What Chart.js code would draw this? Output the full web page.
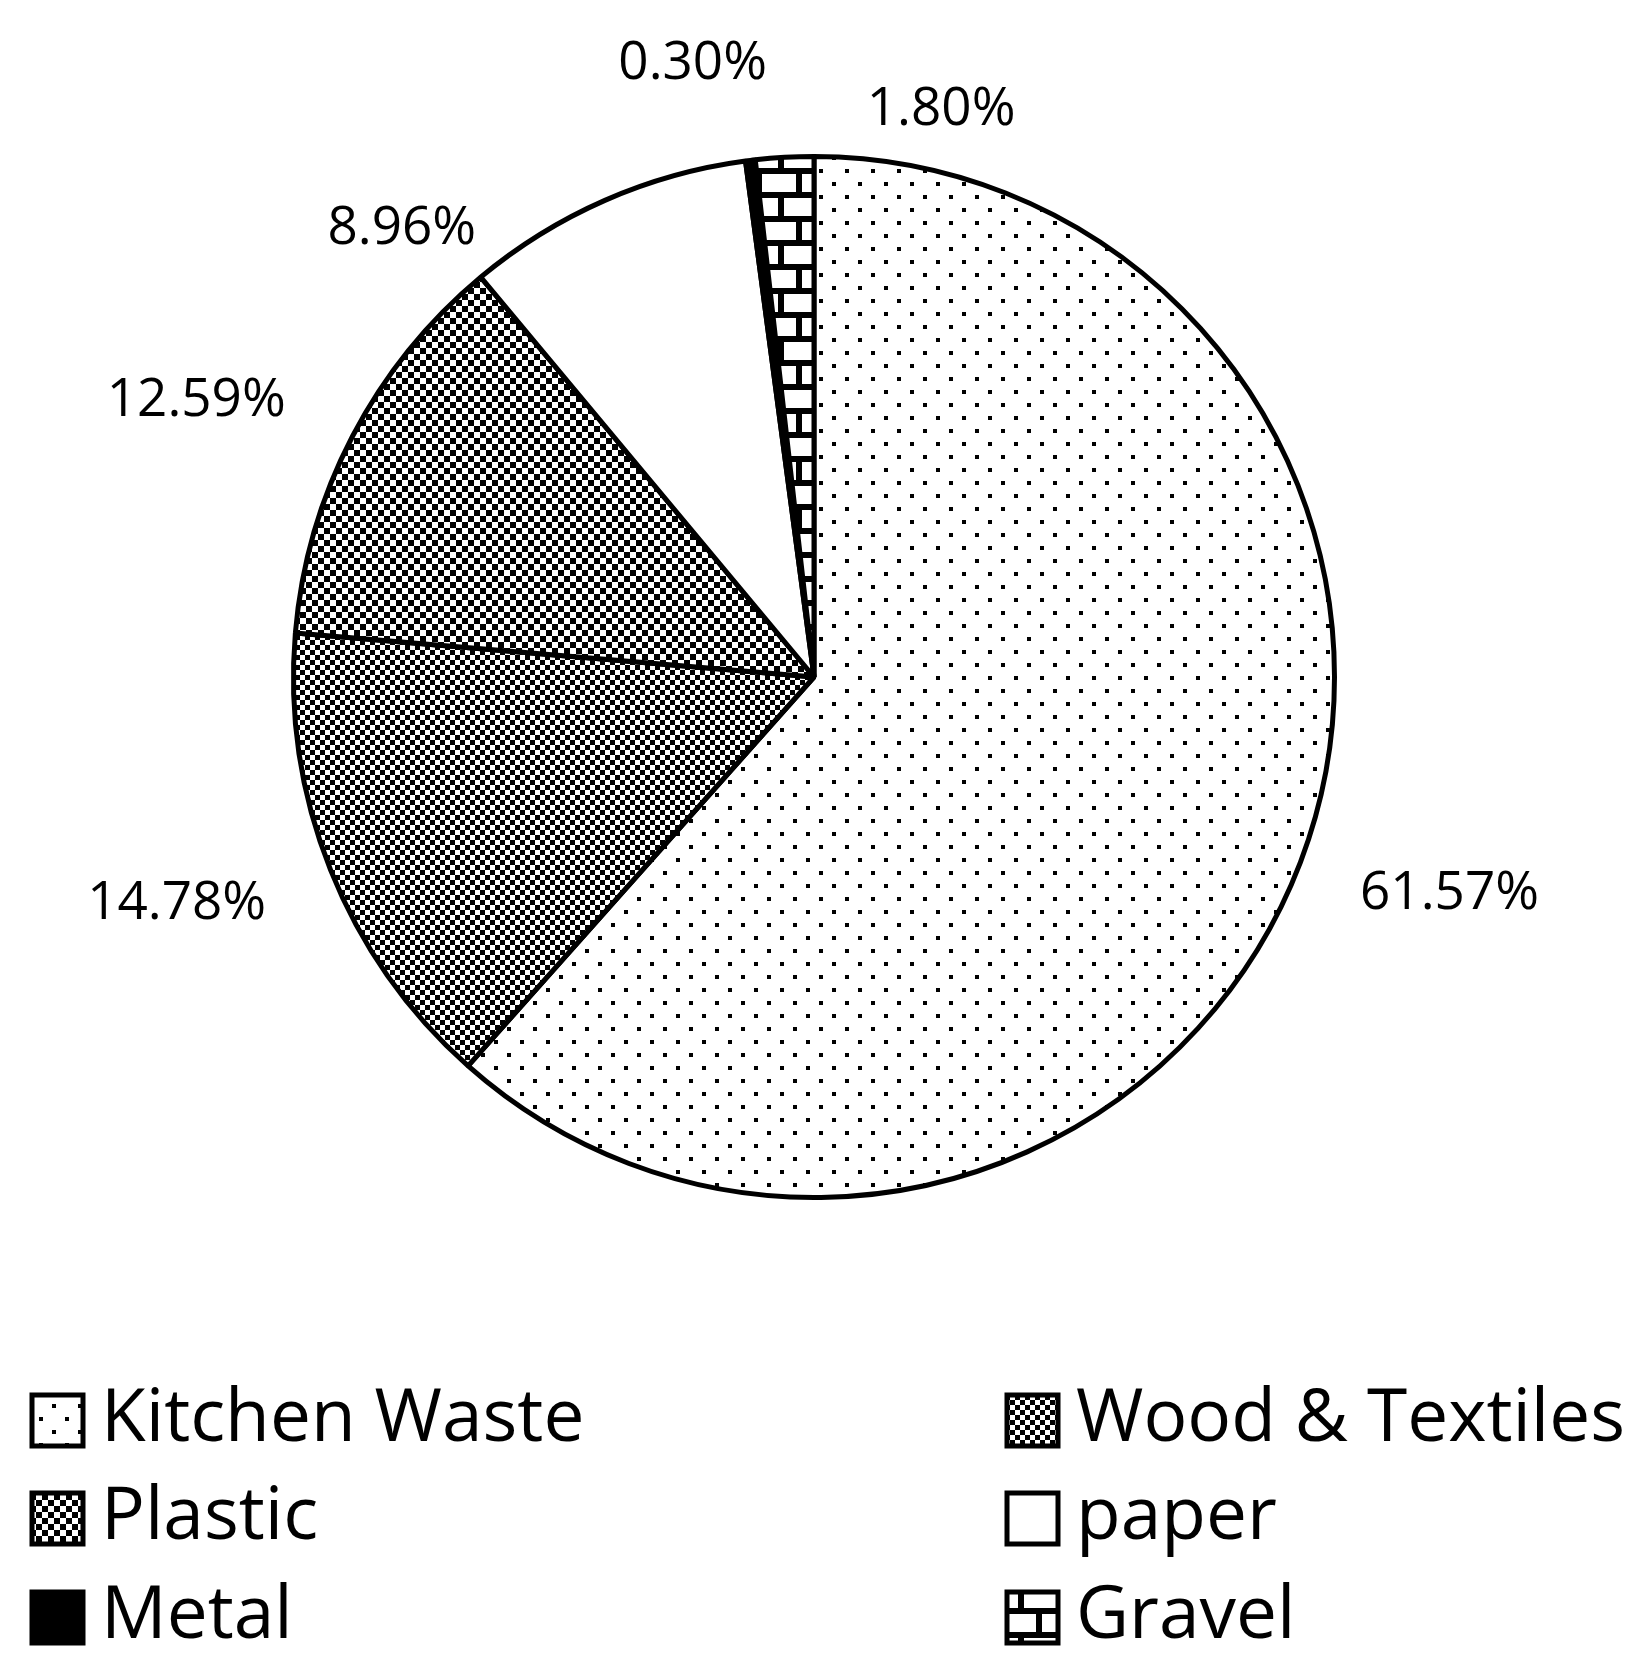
<!DOCTYPE html>
<html><head><meta charset="utf-8">
<script src="https://cdn.jsdelivr.net/npm/chart.js@4/dist/chart.umd.min.js"></script>
<style>html,body{margin:0;padding:0;background:#fff}#wrap{width:1652px;height:1674px}</style>
</head><body><div id="wrap"><canvas id="c" width="1652" height="1674"></canvas></div>
<script>
const categories = ["Kitchen Waste","Wood & Textiles","Plastic","paper","Metal","Gravel"];
const values = [61.57,14.78,12.59,8.96,0.30,1.80];
const valueLabels = ["61.57%","14.78%","12.59%","8.96%","0.30%","1.80%"];

function mk(w,h,draw){const c=document.createElement('canvas');c.width=w;c.height=h;const x=c.getContext('2d');x.fillStyle='#fff';x.fillRect(0,0,w,h);x.fillStyle='#000';draw(x);return c;}
const tiles=[
 mk(26,26,x=>{x.fillRect(0,0,4,4);x.fillRect(13,13,4,4);}),
 mk(30,20,x=>{for(let i=0;i<6;i++){const y=i*5>15?0:0;}
   const pts=[[0,0],[5,5],[10,10],[15,15],[20,10],[25,5]];
   pts.forEach(p=>{x.fillRect(p[0],p[1],5,5);x.fillRect(p[0],(p[1]+10)%20,5,5);});}),
 mk(12,12,x=>{x.fillRect(0,0,6,6);x.fillRect(6,6,6,6);}),
 mk(4,4,x=>{}),
 mk(4,4,x=>{x.fillRect(0,0,4,4);}),
 mk(40,48,x=>{x.fillRect(0,0,40,6);x.fillRect(0,24,40,6);x.fillRect(18,0,6,24);x.fillRect(36,24,4,24);x.fillRect(0,24,2,24);})
];
const ctx0=document.getElementById('c').getContext('2d');
const pats=tiles.map(t=>ctx0.createPattern(t,'repeat'));
const labelAngleShift=[-0.035,0.037,-0.06,-0.33,-0.073,0.277];
const labelRadius=[1.29,1.30,1.30,1.17,1.20,1.117];

const labelPlugin={id:'lbl',afterDraw(ch){
 const c=ch.ctx, meta=ch.getDatasetMeta(0);
 c.save();c.fillStyle='#000';c.font='53px "Open Sans", "Liberation Sans", sans-serif';c.textAlign='center';c.textBaseline='middle';
 meta.data.forEach((a,i)=>{const ang=(a.startAngle+a.endAngle)/2+labelAngleShift[i];const r=a.outerRadius*labelRadius[i];
  c.fillText(valueLabels[i],a.x+Math.cos(ang)*r,a.y+Math.sin(ang)*r);});
 c.font='73px "Open Sans", "Liberation Sans", sans-serif';c.textAlign='left';
 const rows=[1420,1518,1617], cols=[[32,101],[1007,1076]];
 categories.forEach((n,i)=>{const col=cols[i%2], y=rows[Math.floor(i/2)];
  c.fillStyle=pats[i];c.fillRect(col[0],y-25,51,51);c.lineWidth=5;c.strokeStyle='#000';c.strokeRect(col[0],y-25,51,51);
  c.fillStyle='#000';c.fillText(n,col[1],y);});
 c.restore();}};

new Chart(ctx0,{type:'pie',data:{labels:categories,datasets:[{data:values,backgroundColor:pats,borderColor:'#000',borderWidth:5}]},
 options:{responsive:false,animation:false,devicePixelRatio:1,layout:{padding:{left:100,right:124,top:154,bottom:474}},
 plugins:{legend:{display:false},tooltip:{enabled:false}}},plugins:[labelPlugin]});
</script></body></html>
